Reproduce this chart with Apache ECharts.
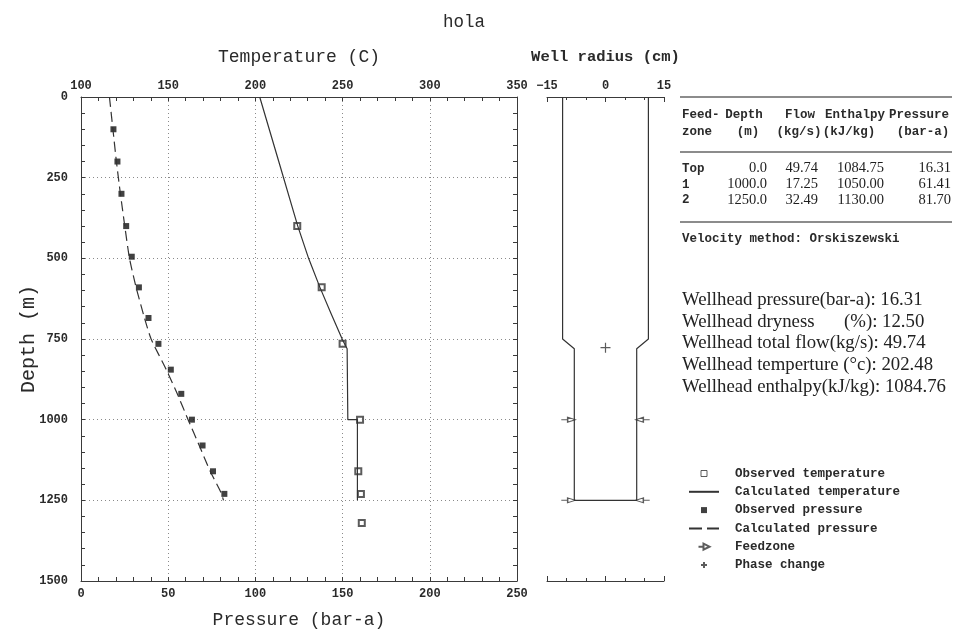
<!DOCTYPE html>
<html>
<head>
<meta charset="utf-8">
<script src="https://cdn.jsdelivr.net/npm/echarts@6/dist/echarts.min.js"></script>
<style>
  html, body { margin: 0; padding: 0; background: #fff; }
  #chart { width: 955px; height: 633px; }
</style>
</head>
<body>
<div id="chart"></div>
<script>
// Downhole profiles for well "hola"

// Observed temperature (C) against depth (m)
const obsTempDepth = [400, 590, 765, 1000, 1160, 1230, 1320];
const obsTemp      = [224, 238, 250, 260, 259, 260.5, 261];

// Calculated temperature profile
const calcTempDepth = [0, 200, 400, 500, 590, 670, 753, 780, 1000, 1000, 1250];
const calcTemp      = [202.48, 213.4, 224.3, 230.5, 237, 243.3, 250, 252.6, 253, 258.5, 258.5];

// Observed pressure (bar-a) against depth (m)
const obsPresDepth = [100, 200, 300, 400, 495, 590, 685, 765, 845, 920, 1000, 1080, 1160, 1230];
const obsPres      = [18.6, 20.9, 23.2, 25.9, 29.1, 33.2, 38.7, 44.4, 51.5, 57.5, 63.6, 69.7, 75.7, 82.2];

// Calculated pressure profile
const calcPresDepth = [0, 100, 200, 300, 400, 500, 590, 685, 750, 845, 920, 1000, 1080, 1160, 1225, 1250];
const calcPres      = [16.31, 18.3, 20.3, 22.6, 25.1, 27.8, 31.6, 36.4, 40.2, 48.9, 55.2, 61.41, 67.8, 74.1, 80.2, 81.7];

// Well geometry: casing radius (cm) at depth (m)
const casingDepth  = [0, 750, 780, 1250];
const casingRadius = [11, 11, 8, 8];

// Feed zones and phase change point
const feedDepth   = [1000, 1250];
const feedRadius  = 8;
const phaseDepth  = [777];
const phaseRadius = [0];

// Feed-zone table
const tableHead1 = ['Feed-', 'Depth', 'Flow', 'Enthalpy', 'Pressure'];
const tableHead2 = ['zone', '(m)', '(kg/s)', '(kJ/kg)', '(bar-a)'];
const zoneNames  = ['Top', '1', '2'];
const zoneDepth  = ['0.0', '1000.0', '1250.0'];
const zoneFlow   = ['49.74', '17.25', '32.49'];
const zoneEnth   = ['1084.75', '1050.00', '1130.00'];
const zonePres   = ['16.31', '61.41', '81.70'];
const velocityNote = 'Velocity method: Orskiszewski';

// Wellhead summary
const wellheadLabels = ['Wellhead pressure(bar-a): 16.31', 'Wellhead dryness', 'Wellhead total flow(kg/s): 49.74',
                        'Wellhead temperture (°c): 202.48', 'Wellhead enthalpy(kJ/kg): 1084.76'];
const drynessValue = '(%): 12.50';

const MONO = '"Liberation Mono", "DejaVu Sans Mono", monospace';
const SERIF = '"Liberation Serif", "DejaVu Serif", serif';
const INK = '#2a2a2a';
const AXIS = '#3a3a3a';

const SQUARE = 'path://M0,0L1,0L1,1L0,1Z';
const legendItems = [
  { name: 'Observed temperature', icon: SQUARE, itemStyle: { color: '#fff', borderColor: '#333', borderWidth: 1 } },
  { name: 'Calculated temperature', itemStyle: { opacity: 0 } },
  { name: 'Observed pressure', icon: SQUARE },
  { name: 'Calculated pressure', itemStyle: { opacity: 0 }, lineStyle: { type: [13, 5] } },
  { name: 'Feedzone' },
  { name: 'Phase change' }
];

const pairs = (xs, ys) => ys.map((y, i) => [xs[i], y]);

// casing outline: down the left wall, across the bottom, up the right wall
const casingPath = [];
casingDepth.forEach((d, i) => casingPath.push([-casingRadius[i], d]));
for (let i = casingDepth.length - 1; i >= 0; i--) casingPath.push([casingRadius[i], casingDepth[i]]);

const tickLabel = { fontFamily: MONO, fontWeight: 'bold', fontSize: 12, color: INK };
const axisLineStyle = { color: AXIS, width: 1 };
const dotted = { color: '#8a8a8a', width: 1, type: [1, 3] };

// text items of the table and summary
const graphics = [];
const txt = (x, y, text, opt) => graphics.push({
  type: 'text', x: x, y: y, silent: true,
  style: Object.assign({ text: text, fill: INK, font: 'bold 12.5px ' + MONO, textAlign: 'left', textVerticalAlign: 'middle' }, opt || {})
});
const hline = (y, w) => graphics.push({
  type: 'line', silent: true, shape: { x1: 680, y1: y, x2: 952, y2: y },
  style: { stroke: '#666', lineWidth: w }
});
hline(97, 1.6); hline(152, 1.6); hline(222, 1.6);
const headCenters1 = [null, 744, 800, 855, 919];
const headCenters2 = [null, 748, 799, 849, 923];
tableHead1.forEach((t, i) => i === 0 ? txt(682, 115, t) : txt(headCenters1[i], 115, t, { textAlign: 'center' }));
tableHead2.forEach((t, i) => i === 0 ? txt(682, 132, t) : txt(headCenters2[i], 132, t, { textAlign: 'center' }));
const rowY = [168.5, 184.5, 200];
const numFont = '14.5px ' + SERIF;
zoneNames.forEach((z, i) => {
  txt(682, rowY[i], z);
  txt(767, rowY[i], zoneDepth[i], { textAlign: 'right', font: numFont, fill: '#1e1e1e' });
  txt(818, rowY[i], zoneFlow[i], { textAlign: 'right', font: numFont, fill: '#1e1e1e' });
  txt(884, rowY[i], zoneEnth[i], { textAlign: 'right', font: numFont, fill: '#1e1e1e' });
  txt(951, rowY[i], zonePres[i], { textAlign: 'right', font: numFont, fill: '#1e1e1e' });
});
txt(682, 238.5, velocityNote);

const whY = [300, 321.7, 343.3, 365, 386.7];
wellheadLabels.forEach((t, i) => txt(682, whY[i], t, { font: '18.8px ' + SERIF, fill: '#222' }));
txt(844, whY[1], drynessValue, { font: '18.8px ' + SERIF, fill: '#222' });

const option = {
  animation: false,
  backgroundColor: '#fff',
  title: {
    text: 'hola', left: 438, top: 8,
    textStyle: { fontFamily: MONO, fontWeight: 'normal', fontSize: 17.5, color: INK }
  },
  grid: [
    { left: 81, top: 97, width: 436, height: 484, outerBoundsMode: 'none' },
    { left: 547, top: 97, width: 117, height: 484, outerBoundsMode: 'none' }
  ],
  xAxis: [
    {
      type: 'value', gridIndex: 0, position: 'top', min: 100, max: 350, interval: 50,
      name: 'Temperature (C)', nameLocation: 'middle', nameGap: 31,
      nameTextStyle: { fontFamily: MONO, fontSize: 18, color: INK },
      axisLine: { show: true, onZero: false, lineStyle: axisLineStyle },
      axisTick: { show: true, inside: true, length: 4, lineStyle: axisLineStyle },
      minorTick: { show: true, splitNumber: 5, length: 4, lineStyle: axisLineStyle },
      axisLabel: Object.assign({ margin: 5 }, tickLabel),
      splitLine: { show: true, lineStyle: dotted }
    },
    {
      type: 'value', gridIndex: 0, position: 'bottom', min: 0, max: 250, interval: 50,
      name: 'Pressure (bar-a)', nameLocation: 'middle', nameGap: 30,
      nameTextStyle: { fontFamily: MONO, fontSize: 18, color: INK },
      axisLine: { show: true, onZero: false, lineStyle: axisLineStyle },
      axisTick: { show: true, inside: true, length: 4, lineStyle: axisLineStyle },
      minorTick: { show: true, splitNumber: 5, length: 4, lineStyle: axisLineStyle },
      axisLabel: Object.assign({ margin: 7 }, tickLabel),
      splitLine: { show: false }
    },
    {
      type: 'value', gridIndex: 1, position: 'top', min: -15, max: 15, interval: 15,
      name: 'Well radius (cm)', nameLocation: 'middle', nameGap: 32,
      nameTextStyle: { fontFamily: MONO, fontWeight: 'bold', fontSize: 15.5, color: INK },
      axisLine: { show: true, onZero: false, lineStyle: axisLineStyle },
      axisTick: { show: true, inside: true, length: 5, lineStyle: axisLineStyle },
      minorTick: { show: true, splitNumber: 3, length: 3, lineStyle: axisLineStyle },
      axisLabel: Object.assign({ margin: 5, formatter: v => String(v).replace('-', '\u2212') }, tickLabel),
      splitLine: { show: false }
    },
    {
      type: 'value', gridIndex: 1, position: 'bottom', min: -15, max: 15, interval: 15,
      axisLine: { show: true, onZero: false, lineStyle: axisLineStyle },
      axisTick: { show: true, inside: true, length: 5, lineStyle: axisLineStyle },
      minorTick: { show: true, splitNumber: 3, length: 3, lineStyle: axisLineStyle },
      axisLabel: { show: false },
      splitLine: { show: false }
    }
  ],
  yAxis: [
    {
      type: 'value', gridIndex: 0, position: 'left', inverse: true, min: 0, max: 1500, interval: 250,
      name: 'Depth (m)', nameLocation: 'middle', nameGap: 42, nameMoveOverlap: false,
      nameTextStyle: { fontFamily: MONO, fontSize: 20, color: INK },
      axisLine: { show: true, onZero: false, lineStyle: axisLineStyle },
      axisTick: { show: true, inside: true, length: 4, lineStyle: axisLineStyle },
      minorTick: { show: true, splitNumber: 5, length: 4, lineStyle: axisLineStyle },
      axisLabel: Object.assign({ margin: 13, formatter: v => String(v) }, tickLabel),
      splitLine: { show: true, lineStyle: dotted }
    },
    {
      type: 'value', gridIndex: 0, position: 'right', inverse: true, min: 0, max: 1500, interval: 250,
      axisLine: { show: true, onZero: false, lineStyle: axisLineStyle },
      axisTick: { show: true, inside: true, length: 4, lineStyle: axisLineStyle },
      minorTick: { show: true, splitNumber: 5, length: 4, lineStyle: axisLineStyle },
      axisLabel: { show: false },
      splitLine: { show: false }
    },
    {
      type: 'value', gridIndex: 1, inverse: true, min: 0, max: 1500, show: false
    }
  ],
  legend: {
    orient: 'vertical', left: 683, top: 461.5,
    itemWidth: 30, itemHeight: 6, itemGap: 4.3,
    selectedMode: false,
    data: legendItems,
    textStyle: { fontFamily: MONO, fontWeight: 'bold', fontSize: 12.5, color: INK, lineHeight: 14, padding: [0, 0, 0, 11] }
  },
  series: [
    {
      name: 'Observed temperature', type: 'scatter', xAxisIndex: 0, yAxisIndex: 0,
      symbol: 'emptyRect', symbolSize: 6,
      itemStyle: { color: '#333', borderWidth: 1 },
      data: pairs(obsTemp, obsTempDepth)
    },
    {
      name: 'Calculated temperature', type: 'line', xAxisIndex: 0, yAxisIndex: 0,
      symbol: 'none', smooth: false,
      lineStyle: { color: '#333', width: 1.2 }, itemStyle: { color: '#333' },
      data: pairs(calcTemp, calcTempDepth)
    },
    {
      name: 'Observed pressure', type: 'scatter', xAxisIndex: 1, yAxisIndex: 0,
      symbol: 'rect', symbolSize: 6,
      itemStyle: { color: '#111' },
      data: pairs(obsPres, obsPresDepth)
    },
    {
      name: 'Calculated pressure', type: 'line', xAxisIndex: 1, yAxisIndex: 0,
      symbol: 'none', smooth: 0.2,
      lineStyle: { color: '#333', width: 1.2, type: [10, 5] }, itemStyle: { color: '#333' },
      data: pairs(calcPres, calcPresDepth)
    },
    {
      name: 'casing', type: 'line', xAxisIndex: 2, yAxisIndex: 2,
      symbol: 'none', lineStyle: { color: '#333', width: 1.2 },
      data: casingPath
    },
    {
      name: 'Feedzone', type: 'scatter', xAxisIndex: 2, yAxisIndex: 2,
      symbol: 'path://M0,4L5,4M5,1L11,4L5,7Z', symbolSize: [14, 9], symbolKeepAspect: true,
      symbolOffset: [-6, 0],
      itemStyle: { color: '#fff', borderColor: '#333', borderWidth: 1.2 },
      data: feedDepth.map(d => [-feedRadius, d])
    },
    {
      name: 'Feedzone', type: 'scatter', xAxisIndex: 2, yAxisIndex: 2,
      symbol: 'path://M11,4L6,4M6,1L0,4L6,7Z', symbolSize: [14, 9], symbolKeepAspect: true,
      symbolOffset: [6, 0],
      itemStyle: { color: '#fff', borderColor: '#333', borderWidth: 1.2 },
      data: feedDepth.map(d => [feedRadius, d])
    },
    {
      name: 'Phase change', type: 'scatter', xAxisIndex: 2, yAxisIndex: 2,
      symbol: 'path://M0,5L10,5M5,0L5,10', symbolSize: 10,
      itemStyle: { color: '#333', borderColor: '#333', borderWidth: 1.2 },
      data: pairs(phaseRadius, phaseDepth)
    }
  ],
  graphic: graphics
};

const chart = echarts.init(document.getElementById('chart'), null, { renderer: 'canvas' });
chart.setOption(option);
</script>
</body>
</html>
